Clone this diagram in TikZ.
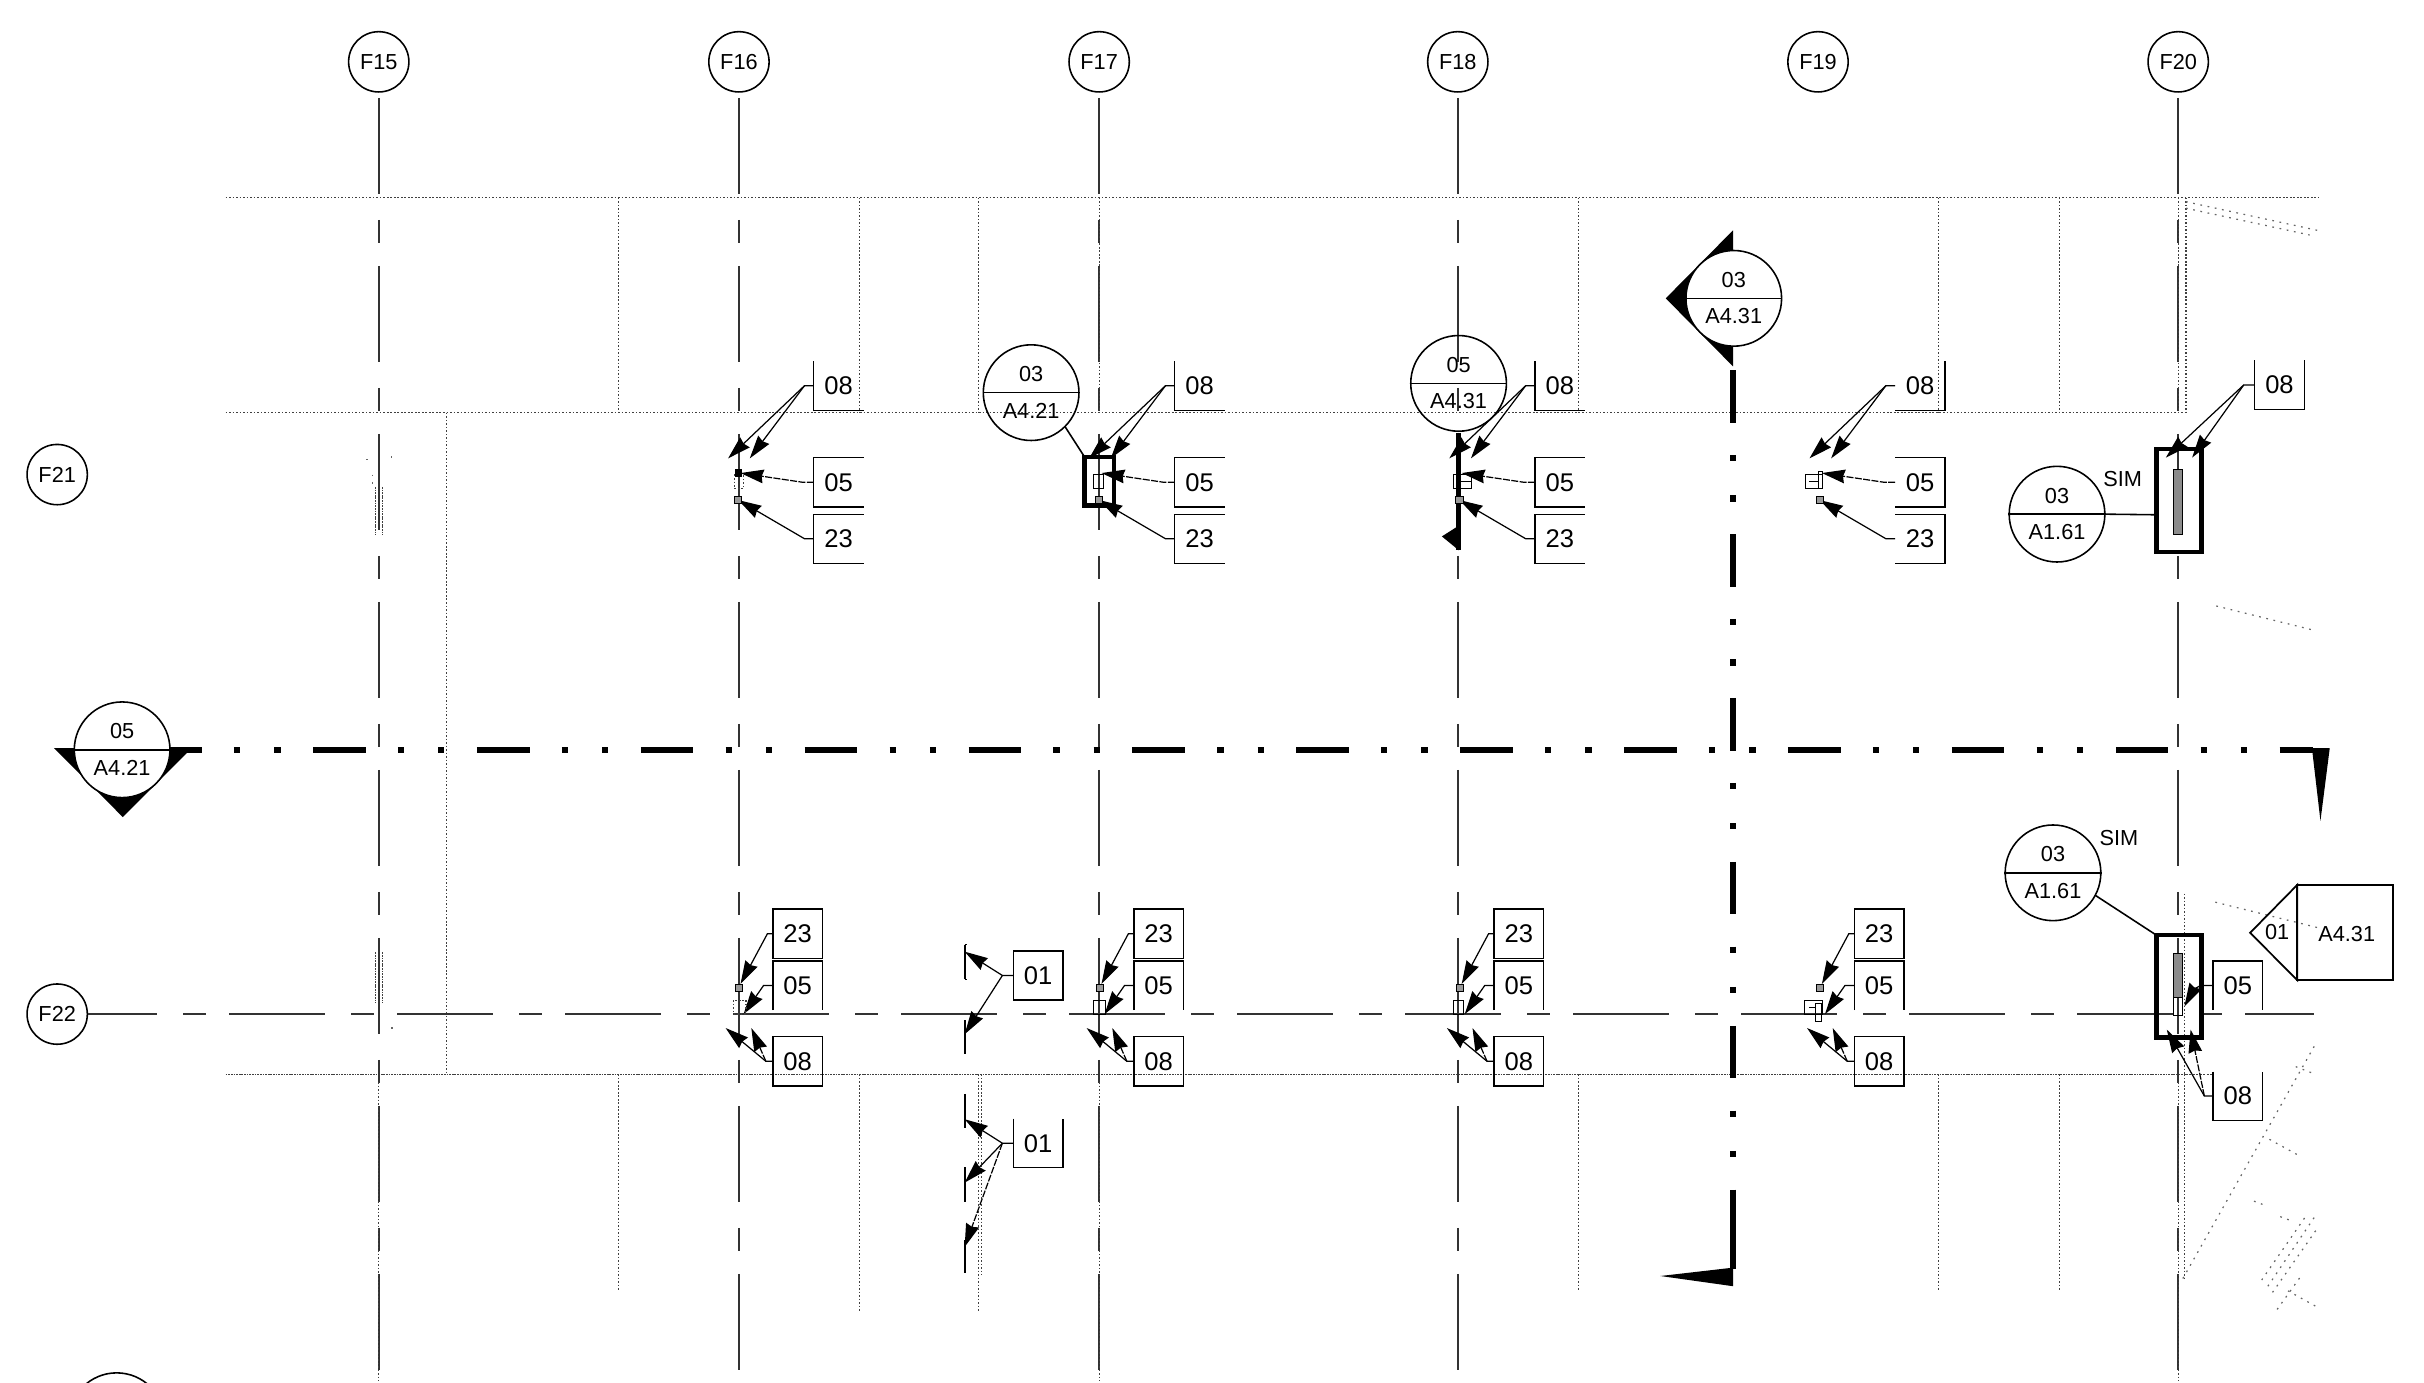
\documentclass[tikz,border=0pt]{standalone}
\usepackage{fontspec}
\setmainfont{Liberation Sans}
\usetikzlibrary{arrows.meta}
\tikzset{
  griddash/.style={black!80,line width=0.5pt,dash pattern=on 27.4pt off 7.42pt on 6.56pt off 6.56pt},
  secline/.style={line width=1.7pt,dash pattern=on 15pt off 9.2pt on 1.8pt off 9.7pt on 1.8pt off 9.26pt},
  walldot/.style={black!75,line width=0.35pt,dash pattern=on 0.45pt off 0.55pt},
  densedot/.style={black!75,line width=0.45pt,dash pattern=on 0.5pt off 0.25pt},
  faintdot/.style={black!60,line width=0.35pt,dash pattern=on 0.5pt off 1.6pt},
  gridbub/.style={draw,circle,fill=white,line width=0.45pt,minimum size=17.2pt,inner sep=0pt,font=\fontsize{6.2}{7}\selectfont},
  secbub/.style={draw,circle,line width=0.45pt,minimum size=27.3pt,inner sep=0pt},
  bubtxt/.style={inner sep=0pt,font=\fontsize{6.2}{7}\selectfont},
  tagbox/.style={minimum width=13.8pt,minimum height=13.6pt,inner sep=0pt,font=\fontsize{7.3}{8}\selectfont},
  tagline/.style={line width=0.4pt},
  leader/.style={line width=0.35pt,-{Stealth[length=6.6pt,width=3.9pt,inset=0.5pt]}},
  leaderd/.style={leader,dash pattern=on 2pt off 0.4pt},
  heavyframe/.style={line width=1.25pt},
  partgray/.style={line width=0.3pt,fill=black!45}
}
\begin{document}
\begin{tikzpicture}[x=0.0155cm,y=-0.0155cm]
  \pgfmathsetmacro\ceps{2.3}   % half size of the small anchor squares
  \path[use as bounding box,clip] (0,0) rectangle (1568,894.6);

% dotted walls
  \draw[walldot] (146,128) -- (1500,128);
  \draw[walldot] (146,267) -- (1414,267);
  \draw[densedot] (146,695) -- (1414,695);
  \draw[walldot] (1414,695) -- (1431,695);
  \draw[walldot] (289,267) -- (289,695);
  \foreach \x in {400,556,633,1021,1254,1332,1414}
    \draw[walldot] (\x,128) -- (\x,267);
  \foreach \x/\yend in {400/835,556/848,633/848,635/825,1021/835,1254/835,1332/835,1413/827}
    \draw[walldot] (\x,695) -- (\x,\yend);
  \draw[walldot] (1413,578) -- (1413,695);

% faint lines at the right edge
  \draw[faintdot] (1414,130.5) -- (1499,149);
  \draw[faintdot] (1414,134.7) -- (1494,152);
  \draw[faintdot] (1433.6,392) -- (1496,407.5);
  \draw[faintdot] (1433,583.6) -- (1499,600);
  \draw[faintdot] (1412,827) -- (1498,675);
  \draw[faintdot] (1485,690) -- (1498,695);
  \draw[faintdot] (1468,737) -- (1488,748);
  \draw[faintdot] (1458,777) -- (1466,780);
  \draw[faintdot] (1475,787) -- (1483,790);
  \draw[faintdot] (1467,832) -- (1498,786);
  \draw[faintdot] (1470,836) -- (1498,796);
  \draw[faintdot] (1463,828) -- (1492,786);
  \draw[faintdot] (1473,847) -- (1488,826);
  \draw[faintdot] (1480,835) -- (1498,845);

% grid bubbles and lines
  \foreach \nm/\x in {F15/245,F16/478,F17/711,F18/943,F19/1176,F20/1409}
    \node[gridbub] (\nm) at (\x,40) {\nm};
  \node[gridbub] (F21) at (37,307) {F21};
  \node[gridbub] (F22) at (37,656) {F22};
  \foreach \nm in {F15,F16,F17,F18,F20} {
    \coordinate (\nm end) at (\nm |- 0,893);
    \draw[griddash,dash phase=46.5pt] (\nm.south) -- (\nm end);
  }
  \coordinate (F22end) at (1497,656);
  \draw[griddash,dash phase=7.7pt,line width=0.45pt] (F22.east) -- (F22end);
  \foreach \x in {245,711,1409}
    \draw[walldot] (\x,700) -- (\x,893);
  \foreach \x in {711,1409}
    \draw[walldot] (\x,128) -- (\x,267);

% parts at F15
  \draw[densedot] (243,315) -- (243,346);
  \draw[densedot] (247.5,315) -- (247.5,346);
  \draw[densedot] (243,616) -- (243,649);
  \draw[densedot] (247.5,616) -- (247.5,649);
  \draw[faintdot] (241,307) -- (241,315);
  \draw[faintdot] (237,297) -- (238,297);
  \draw[faintdot] (253,295) -- (253,298);
  \draw[faintdot] (253,665) -- (254.5,665);

% section lines
  \coordinate (secHa) at (96.5,485);
  \coordinate (secHb) at (1496,485);
  \coordinate (secVa) at (1121,239.5);
  \coordinate (secVb) at (1121,770);
  \coordinate (secVc) at (1121,821);
  \draw[secline] (secHa) -- (secHb);
  \draw[secline] (secVa) -- (secVb);
  \draw[line width=1.7pt] (secVb) -- (secVc);
  \fill (35,484) -- (130,484) -- (130,486) -- (122,486) -- (79.4,528.5) -- cycle;
  \fill (1121,149) -- (1077.5,193) -- (1121,237) -- cycle;
  \fill (1495.5,484) -- (1507,484) -- (1501,531) -- cycle;
  \fill (1121,820) -- (1074,825.4) -- (1121,832) -- cycle;
  \draw[line width=1.2pt] (943.5,280) -- (943.5,356);
  \fill (943.7,340) -- (932.7,347) -- (943.7,356) -- cycle;

% section bubbles
  \foreach \n/\x/\y/\fl/\up/\lo in {a/79/485/white/05/A4.21,b/1121.5/193/white/03/A4.31,
      c/667/254/none/03/A4.21,d/943.5/248/none/05/A4.31,
      e/1330.6/332.6/none/03/A1.61,f/1328/564.6/none/03/A1.61} {
    \node[secbub,fill=\fl] (sec\n) at (\x,\y) {};
    \draw[line width=0.45pt] (sec\n.west) -- (sec\n.east);
    \node[bubtxt] (sec\n up) at (\x,\y-12) {\up};
    \node[bubtxt] (sec\n lo) at (\x,\y+11.5) {\lo};
  }
  \node[secbub] (secg) at (75.5,919) {};
  \node[bubtxt] (simA) at (1373,310) {SIM};
  \node[bubtxt] (simB) at (1370.6,542) {SIM};

% upper row of tags
  \foreach \col/\dx in {p/0,q/233.5,r/466.5,s/699.5} {
    \node[tagbox] (\col08) at (542.5+\dx,249.5) {08};
    \node[tagbox] (\col05) at (542.5+\dx,312) {05};
    \node[tagbox] (\col23) at (542.5+\dx,348.5) {23};
    \coordinate (\col08t) at (471+\dx,296.5);
    \coordinate (\col08u) at (485+\dx,296.5);
    \coordinate (\col05t) at (479+\dx,306);
    \coordinate (\col23t) at (477.6+\dx,323.5);
    \draw[leader] (\col08.west) -- ++(-6,0) -- (\col08t);
    \draw[leader] (\col08.west) ++(-6,0) -- (\col08u);
    \draw[tagline] (\col08.west) -- ++(-6,0);
    \draw[leaderd] (\col05.west) -- ++(-7,0) -- (\col05t);
    \draw[leader] (\col23.west) -- ++(-6,0) -- (\col23t);
    \draw[line width=0.3pt,fill=black!40] (477.6+\dx-\ceps,323.5-\ceps) rectangle (477.6+\dx+\ceps,323.5+\ceps);
  }
  \foreach \col in {p,q,r} {
    \draw[tagline] (\col08.north west) -- (\col08.south west) -- (\col08.south east);
    \draw[tagline] (\col05.north east) -- (\col05.north west) -- (\col05.south west) -- (\col05.south east);
    \draw[tagline] (\col23.north east) -- (\col23.north west) -- (\col23.south west) -- (\col23.south east);
  }
  \draw[tagline] (s08.south west) -- (s08.south east) -- (s08.north east);
  \draw[tagline] (s05.north west) -- (s05.north east) -- (s05.south east) -- (s05.south west);
  \draw[tagline] (s23.north west) -- (s23.north east) -- (s23.south east) -- (s23.south west);

% upper parts
  \draw[walldot,line width=0.4pt] (475,307) rectangle (481,316);
  \draw[line width=0.3pt] (707.6,307) rectangle (714,316);
  \draw[line width=0.3pt] (940,307) rectangle (952,316);
  \draw[line width=0.3pt] (944,311.5) -- (952,311.5);
  \draw[line width=0.3pt] (1168,307) rectangle (1179,316);
  \draw[line width=0.3pt] (1170,311.5) -- (1176,311.5);
  \draw[line width=0.3pt] (1176,305) rectangle (1179,316);
  \fill (477.6-\ceps,306-\ceps) rectangle (477.6+\ceps,306+\ceps);
  \node[inner sep=0pt,minimum size=0pt] (frameAa) at (701.5,295.5) {};
  \draw[heavyframe] (frameAa) rectangle (720.5,327);
  \draw[line width=0.45pt] (secc) ++(-45:13.6pt) -- (frameAa);

% tags and frame at F20, upper
  \node[tagbox] (t08) at (1474.5,249) {08};
  \draw[tagline] (t08.north west) -- (t08.south west) -- (t08.south east) -- (t08.north east);
  \coordinate (t08a) at (1401,296);
  \coordinate (t08b) at (1418,296);
  \draw[leader] (t08.west) -- ++(-7,0) -- (t08a);
  \draw[leader] (t08.west) ++(-7,0) -- (t08b);
  \node[inner sep=0pt,minimum size=0pt] (frameBa) at (1395,333) {};
  \draw[heavyframe] (1395,290.5) rectangle (1424,357);
  \draw[line width=0.45pt] (sece.east) -- (frameBa);
  \draw[partgray] (1406,304) rectangle (1411.5,346);

% lower row of tags
  \foreach \col/\dx in {p/0,q/233.5,r/466.5,s/699.5} {
    \node[tagbox] (\col l23) at (516+\dx,604) {23};
    \node[tagbox] (\col l05) at (516+\dx,637.5) {05};
    \node[tagbox] (\col l08) at (516+\dx,686.5) {08};
    \draw[tagline] (\col l23.south west) rectangle (\col l23.north east);
    \draw[tagline] (\col l05.south west) -- (\col l05.north west) -- (\col l05.north east) -- (\col l05.south east);
    \draw[tagline] (\col l08.south west) rectangle (\col l08.north east);
    \coordinate (\col l23t) at (479+\dx,636.5);
    \coordinate (\col l05t) at (481+\dx,656);
    \coordinate (\col l08t) at (469.4+\dx,665);
    \coordinate (\col l08u) at (486+\dx,665);
    \draw[leader] (\col l23.west) -- ++(-3.5,0) -- (\col l23t);
    \draw[leader] (\col l05.west) -- ++(-6,0) -- (\col l05t);
    \draw[leader] (\col l08.west) -- ++(-4.5,0) -- (\col l08t);
    \draw[leaderd] (\col l08.west) ++(-4.5,0) -- (\col l08u);
    \draw[line width=0.3pt,fill=black!40] (478+\dx-\ceps,639-\ceps) rectangle (478+\dx+\ceps,639+\ceps);
  }
  \draw[walldot,line width=0.4pt] (474.5,647) rectangle (482.5,656);
  \draw[line width=0.3pt] (707.5,647) rectangle (715,656);
  \draw[line width=0.3pt] (940,647) rectangle (946.5,656);
  \draw[line width=0.3pt] (1167.5,647) rectangle (1179,656);
  \draw[line width=0.3pt] (1170,651.5) -- (1175,651.5);
  \draw[line width=0.3pt] (1174.5,649) rectangle (1178.5,661);

% tags and frame at F20, lower
  \node[inner sep=0pt,minimum size=0pt] (frameCa) at (1395,605) {};
  \draw[heavyframe] (frameCa) rectangle (1424,671);
  \draw[line width=0.45pt] (secf) ++(-28:13.6pt) -- (frameCa);
  \draw[partgray] (1406,617) rectangle (1412,645);
  \draw[line width=0.3pt] (1406,645) rectangle (1412,656.6);
  \node[tagbox] (u05) at (1447.5,637.5) {05};
  \draw[tagline] (u05.south west) -- (u05.north west) -- (u05.north east) -- (u05.south east);
  \coordinate (u05t) at (1413,651);
  \draw[leader] (u05.west) -- ++(-8,0) .. controls (1419,640) .. (u05t);
  \node[tagbox] (u08) at (1447.5,709) {08};
  \draw[tagline] (u08.north west) -- (u08.south west) -- (u08.south east) -- (u08.north east);
  \coordinate (u08a) at (1401.6,666);
  \coordinate (u08b) at (1417,666);
  \draw[leader] (u08.west) -- ++(-5.5,0) -- (u08a);
  \draw[leaderd] (u08.west) ++(-5.5,0) -- (u08b);

% tags 01 with the wall pieces
  \node[tagbox] (v01) at (671.5,631) {01};
  \draw[tagline] (v01.south west) rectangle (v01.north east);
  \node[tagbox] (w01) at (671.5,739.5) {01};
  \draw[tagline] (w01.north west) -- (w01.south west) -- (w01.south east) -- (w01.north east);
  \foreach \ya/\yb in {611/633.5,660/681.5,707.6/729.6,755/777.5,802/823.5}
    \draw[line width=0.5pt] (624,\ya) -- (624,\yb);
  \draw[line width=0.4pt] (624,611) -- (625.5,611);
  \draw[line width=0.4pt] (624,633.5) -- (625.5,633.5);
  \coordinate (v01a) at (624,615.6);
  \coordinate (v01b) at (624,669);
  \coordinate (w01a) at (624,724);
  \coordinate (w01b) at (624,765);
  \coordinate (w01c) at (624,806.6);
  \draw[leader] (v01.west) -- ++(-7,0) -- (v01a);
  \draw[leader] (v01.west) ++(-7,0) -- (v01b);
  \draw[leader] (w01.west) -- ++(-7,0) -- (w01a);
  \draw[leader] (w01.west) ++(-7,0) -- (w01b);
  \draw[leaderd] (w01.west) ++(-7,0) -- (w01c);

% detail callout at the right
  \node[bubtxt] (call01) at (1473,603) {01};
  \node[bubtxt] (callA) at (1518,604) {A4.31};
  \draw[line width=0.5pt] (1486,572.4) -- (1455.5,603.4) -- (1486,634) -- cycle;
  \draw[line width=0.5pt] (1486,572.4) rectangle (1548,634);
\end{tikzpicture}
\end{document}
